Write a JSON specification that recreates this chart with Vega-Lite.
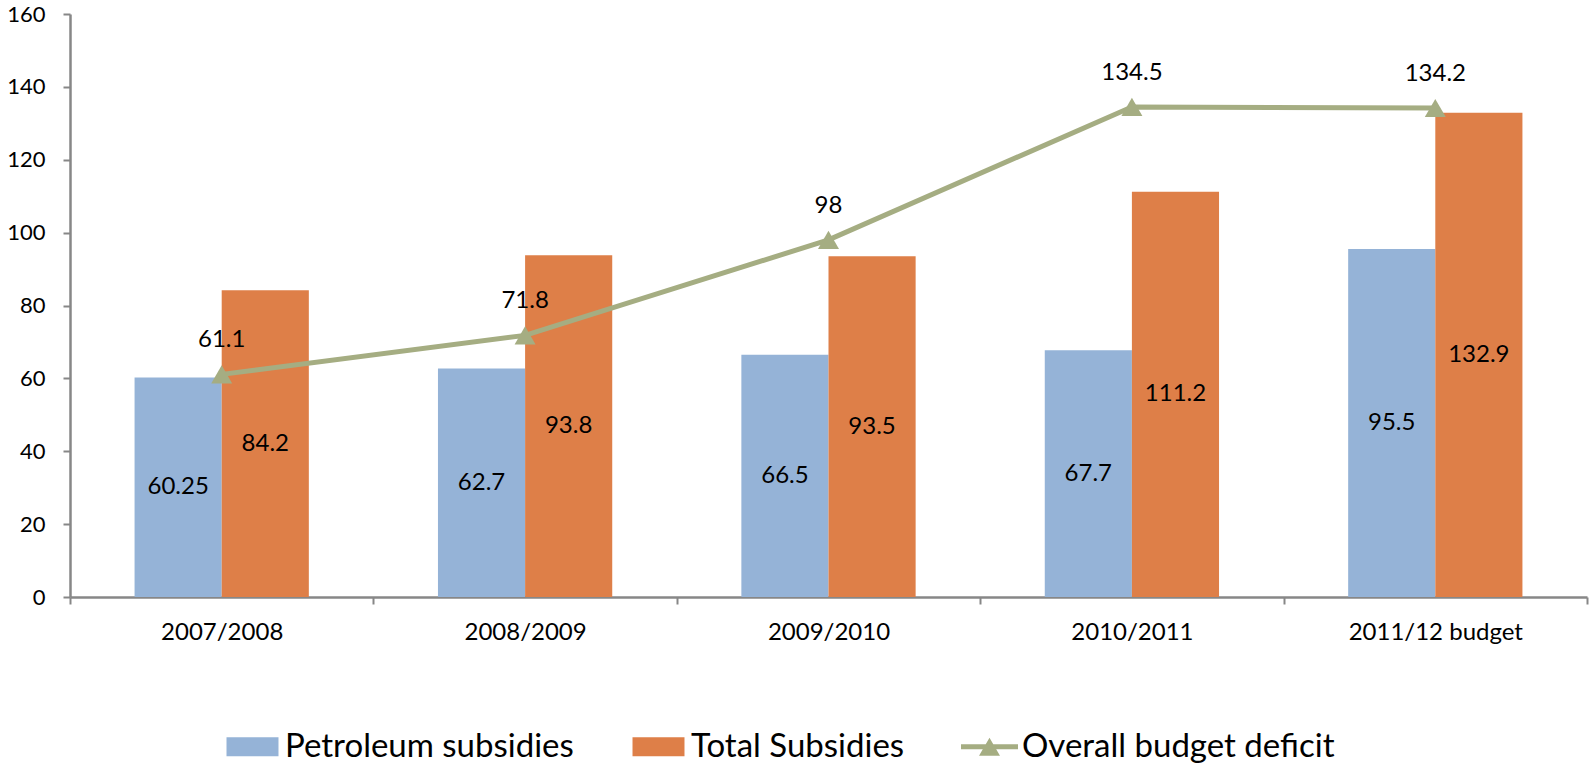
{
  "$schema": "https://vega.github.io/schema/vega-lite/v6.json",
  "width": 1517,
  "height": 583,
  "autosize": {"type": "none"},
  "padding": {"left": 70, "top": 14, "right": 2, "bottom": 167},
  "background": "white",
  "config": {"font": "Lato", "view": {"stroke": null}},
  "datasets": {
    "bars": [
      {"year": "2007/2008", "series": "Petroleum subsidies", "value": 60.25},
      {"year": "2007/2008", "series": "Total Subsidies", "value": 84.2},
      {"year": "2008/2009", "series": "Petroleum subsidies", "value": 62.7},
      {"year": "2008/2009", "series": "Total Subsidies", "value": 93.8},
      {"year": "2009/2010", "series": "Petroleum subsidies", "value": 66.5},
      {"year": "2009/2010", "series": "Total Subsidies", "value": 93.5},
      {"year": "2010/2011", "series": "Petroleum subsidies", "value": 67.7},
      {"year": "2010/2011", "series": "Total Subsidies", "value": 111.2},
      {"year": "2011/12 budget", "series": "Petroleum subsidies", "value": 95.5},
      {"year": "2011/12 budget", "series": "Total Subsidies", "value": 132.9}
    ],
    "deficit": [
      {"year": "2007/2008", "deficit": 61.1},
      {"year": "2008/2009", "deficit": 71.8},
      {"year": "2009/2010", "deficit": 98},
      {"year": "2010/2011", "deficit": 134.5},
      {"year": "2011/12 budget", "deficit": 134.2}
    ]
  },
  "resolve": {"scale": {"y": "independent"}},
  "encoding": {
    "x": {
      "field": "year",
      "type": "nominal",
      "sort": null,
      "scale": {"paddingInner": 0, "paddingOuter": 0},
      "axis": {
        "title": null,
        "labelAngle": 0,
        "tickBand": "extent",
        "domainColor": "#878787",
        "domainWidth": 2.5,
        "tickColor": "#878787",
        "tickWidth": 2,
        "tickSize": 7,
        "labelFontSize": 24,
        "labelColor": "#000000",
        "labelPadding": 16
      }
    }
  },
  "layer": [
    {
      "data": {"name": "bars"},
      "mark": {"type": "bar"},
      "encoding": {
        "xOffset": {
          "field": "series",
          "type": "nominal",
          "scale": {"domain": ["Petroleum subsidies", "Total Subsidies"], "paddingInner": 0, "paddingOuter": 0.741}
        },
        "y": {
          "field": "value",
          "type": "quantitative",
          "scale": {"domain": [0, 160], "nice": false},
          "axis": {
            "title": null,
            "grid": false,
            "values": [0, 20, 40, 60, 80, 100, 120, 140, 160],
            "domainColor": "#878787",
            "domainWidth": 2.5,
            "tickColor": "#878787",
            "tickWidth": 2,
            "tickSize": 7,
            "labelFontSize": 22,
            "labelColor": "#000000",
            "labelPadding": 18
          }
        },
        "color": {
          "field": "series",
          "type": "nominal",
          "scale": {
            "domain": ["Petroleum subsidies", "Total Subsidies", "Overall budget deficit"],
            "range": ["#95B3D7", "#DE7F48", "#A5AD82"]
          },
          "legend": {
            "orient": "none",
            "legendX": 154,
            "legendY": 704,
            "direction": "horizontal",
            "title": null,
            "padding": 0,
            "labelFontSize": 33,
            "labelFont": "Lato",
            "labelColor": "#000000",
            "labelLimit": 0,
            "labelOffset": 4,
            "columnPadding": 56,
            "symbolSize": 3249,
            "symbolStrokeWidth": 0,
            "symbolOpacity": 1,
            "encode": {
              "symbols": {
                "update": {
                  "shape": [
                    {"test": "datum.value === 'Overall budget deficit'", "value": "M-1,-0.088L1,-0.088L1,0.088L-1,0.088Z M-0.368,0.316L0,-0.316L0.368,0.316Z"},
                    {"value": "M-0.912,-0.333L0.912,-0.333L0.912,0.333L-0.912,0.333Z"}
                  ],
                  "strokeWidth": {"value": 0}
                }
              }
            }
          }
        }
      }
    },
    {
      "data": {"name": "bars"},
      "mark": {"type": "text", "fontSize": 24, "color": "#000000"},
      "encoding": {
        "xOffset": {
          "field": "series",
          "type": "nominal",
          "scale": {"domain": ["Petroleum subsidies", "Total Subsidies"], "paddingInner": 0, "paddingOuter": 0.741}
        },
        "y": {"field": "value", "type": "quantitative", "scale": {"domain": [0, 320], "nice": false}, "axis": null},
        "text": {"field": "value", "type": "quantitative"}
      }
    },
    {
      "data": {"name": "deficit"},
      "mark": {
        "type": "line",
        "color": "#A5AD82",
        "strokeWidth": 5,
        "point": {"shape": "triangle-up", "size": 440, "filled": true, "color": "#A5AD82", "opacity": 1}
      },
      "encoding": {
        "y": {"field": "deficit", "type": "quantitative", "scale": {"domain": [0, 160], "nice": false}, "axis": null}
      }
    },
    {
      "data": {"name": "deficit"},
      "mark": {"type": "text", "fontSize": 24, "color": "#000000", "dy": -34},
      "encoding": {
        "y": {"field": "deficit", "type": "quantitative", "scale": {"domain": [0, 160], "nice": false}, "axis": null},
        "text": {"field": "deficit", "type": "quantitative"}
      }
    }
  ]
}
